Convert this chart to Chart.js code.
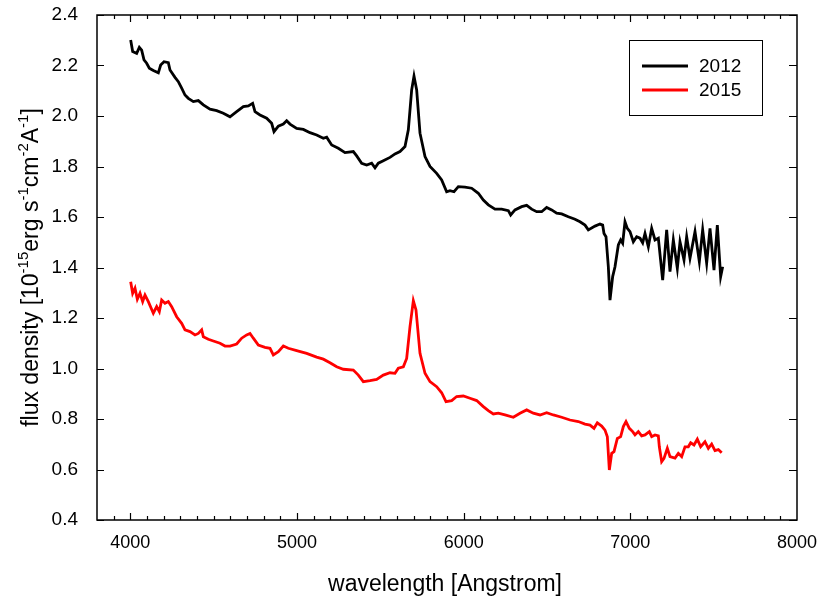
<!DOCTYPE html>
<html>
<head>
<meta charset="utf-8">
<script src="https://cdn.jsdelivr.net/npm/chart.js@4/dist/chart.umd.min.js"></script>
<style>
  html, body { margin: 0; padding: 0; background: #fff; }
  #box { width: 830px; height: 613px; position: relative; }
</style>
</head>
<body>
<div id="box"><canvas id="grafico"></canvas></div>
<script>
const seriesLabels = ["2012", "2015"];
const seriesColors = ["#000000", "#ff0000"];

const wave2012 = [4002,4014,4038,4054,4068,4082,4098,4114,4138,4168,4182,4202,4228,4238,4268,4288,4308,4328,4348,4378,
  4408,4438,4478,4518,4558,4598,4638,4678,4708,4734,4748,4778,4818,4848,4862,4888,4918,4938,4958,4998,
  5038,5078,5118,5158,5178,5208,5248,5288,5338,5358,5388,5418,5448,5468,5488,5518,5558,5588,5618,5648,
  5668,5688,5702,5718,5738,5768,5798,5838,5868,5898,5918,5942,5968,6008,6048,6088,6118,6148,6188,6228,
  6268,6282,6308,6348,6378,6408,6438,6468,6498,6528,6558,6588,6628,6668,6698,6728,6748,6788,6818,6834,
  6842,6854,6868,6878,6894,6908,6928,6942,6954,6968,6982,6998,7018,7038,7058,7074,7088,7108,7128,7148,
  7168,7194,7218,7238,7258,7282,7298,7322,7338,7358,7388,7414,7434,7458,7478,7502,7522,7542,7554];
const flux2012 = [2.301,2.255,2.248,2.272,2.261,2.222,2.209,2.189,2.180,2.171,2.202,2.215,2.211,2.182,2.153,2.136,2.110,2.083,2.070,2.057,
  2.061,2.044,2.027,2.021,2.011,1.997,2.017,2.037,2.040,2.050,2.017,2.004,1.991,1.971,1.938,1.960,1.968,1.981,1.968,1.951,
  1.947,1.934,1.925,1.912,1.916,1.885,1.872,1.855,1.859,1.842,1.813,1.806,1.813,1.795,1.813,1.823,1.836,1.850,1.859,1.879,
  1.945,2.103,2.158,2.103,1.932,1.839,1.800,1.773,1.747,1.700,1.704,1.700,1.720,1.718,1.714,1.694,1.667,1.648,1.631,1.631,
  1.625,1.608,1.628,1.641,1.646,1.631,1.621,1.621,1.638,1.628,1.615,1.612,1.601,1.591,1.581,1.568,1.549,1.564,1.572,1.568,
  1.535,1.522,1.403,1.271,1.364,1.403,1.489,1.509,1.496,1.581,1.555,1.542,1.502,1.522,1.516,1.498,1.535,1.482,1.555,1.509,
  1.516,1.350,1.549,1.384,1.509,1.397,1.502,1.430,1.522,1.437,1.542,1.423,1.549,1.417,1.555,1.390,1.568,1.364,1.403];

const wave2015 = [4002,4014,4028,4042,4058,4074,4088,4108,4138,4158,4174,4188,4208,4228,4248,4278,4308,4328,4358,4388,
  4408,4428,4438,4468,4498,4538,4568,4598,4638,4668,4698,4718,4738,4768,4808,4838,4858,4888,4918,4948,
  4998,5058,5118,5158,5198,5238,5278,5338,5368,5398,5438,5478,5518,5558,5588,5608,5638,5658,5678,5698,
  5714,5738,5768,5798,5838,5868,5894,5928,5958,5998,6038,6078,6118,6148,6178,6208,6248,6298,6338,6378,
  6418,6458,6498,6538,6588,6638,6688,6728,6758,6782,6802,6828,6848,6862,6874,6888,6902,6922,6942,6958,
  6974,6994,7014,7028,7048,7068,7088,7114,7128,7148,7168,7174,7188,7202,7222,7238,7268,7288,7308,7328,
  7348,7362,7382,7402,7422,7448,7468,7488,7508,7528,7548];
const flux2015 = [1.344,1.298,1.318,1.274,1.298,1.265,1.291,1.265,1.219,1.245,1.225,1.271,1.258,1.265,1.245,1.205,1.179,1.153,1.146,1.133,
  1.139,1.153,1.126,1.116,1.109,1.100,1.089,1.089,1.097,1.120,1.133,1.139,1.120,1.093,1.084,1.080,1.054,1.067,1.089,1.080,
  1.071,1.060,1.045,1.037,1.023,1.007,0.997,0.994,0.974,0.948,0.952,0.957,0.974,0.983,0.981,1.001,1.007,1.040,1.166,1.269,
  1.232,1.060,0.981,0.948,0.928,0.904,0.869,0.873,0.889,0.891,0.882,0.873,0.849,0.833,0.820,0.823,0.816,0.807,0.823,0.836,
  0.823,0.816,0.825,0.816,0.807,0.796,0.790,0.780,0.776,0.763,0.785,0.772,0.756,0.730,0.598,0.664,0.671,0.723,0.730,0.770,
  0.790,0.763,0.750,0.737,0.750,0.733,0.737,0.750,0.730,0.737,0.733,0.690,0.631,0.644,0.684,0.651,0.645,0.664,0.651,0.690,
  0.690,0.706,0.697,0.720,0.690,0.710,0.684,0.701,0.675,0.679,0.666];

const xTickValues = [4000, 5000, 6000, 7000, 8000];
const yTickValues = [0.4, 0.6, 0.8, 1.0, 1.2, 1.4, 1.6, 1.8, 2.0, 2.2, 2.4];
const xMinorStep = 100;

const xTitle = "wavelength [Angstrom]";
// pedaços do título do eixo y: [texto, sobrescrito?]
const yTitleParts = [["flux density [10", false], ["-15", true], ["erg s", false], ["-1", true],
  ["cm", false], ["-2", true], ["A", false], ["-1", true], ["]", false]];

const FONTE = "'Liberation Sans', Arial, Helvetica, sans-serif";

function pontos(xs, ys) {
  return xs.map((x, i) => ({ x: x, y: ys[i] }));
}

// moldura com ticks para dentro nos quatro lados
const molduraPlugin = {
  id: "moldura",
  afterDraw(chart) {
    const ctx = chart.ctx;
    const a = chart.chartArea;
    const sx = chart.scales.x;
    const sy = chart.scales.y;
    ctx.save();
    ctx.strokeStyle = "#000";
    ctx.lineWidth = 1.5;
    ctx.strokeRect(a.left, a.top, a.right - a.left, a.bottom - a.top);
    ctx.lineWidth = 1.2;
    ctx.beginPath();
    for (let v = sx.min + xMinorStep; v < sx.max; v += xMinorStep) {
      const px = Math.round(sx.getPixelForValue(v)) + 0.5;
      const len = v % 1000 === 0 ? 7 : 4;
      ctx.moveTo(px, a.bottom);
      ctx.lineTo(px, a.bottom - len);
      ctx.moveTo(px, a.top);
      ctx.lineTo(px, a.top + len);
    }
    yTickValues.forEach(v => {
      const py = Math.round(sy.getPixelForValue(v)) + 0.5;
      ctx.moveTo(a.left, py);
      ctx.lineTo(a.left + 7, py);
      ctx.moveTo(a.right, py);
      ctx.lineTo(a.right - 8, py);
    });
    ctx.stroke();
    ctx.restore();
  }
};

const titulosPlugin = {
  id: "titulos",
  afterDraw(chart) {
    const ctx = chart.ctx;
    const a = chart.chartArea;
    ctx.save();
    ctx.fillStyle = "#000";
    ctx.textBaseline = "alphabetic";
    ctx.textAlign = "center";
    ctx.font = "23px " + FONTE;
    ctx.fillText(xTitle, (a.left + a.right) / 2 - 2, 591);

    const grande = "23px " + FONTE;
    const pequeno = "15px " + FONTE;
    let total = 0;
    yTitleParts.forEach(p => {
      ctx.font = p[1] ? pequeno : grande;
      total += ctx.measureText(p[0]).width;
    });
    ctx.translate(38, (a.top + a.bottom) / 2);
    ctx.rotate(-Math.PI / 2);
    ctx.textAlign = "left";
    let pos = -total / 2;
    yTitleParts.forEach(p => {
      ctx.font = p[1] ? pequeno : grande;
      ctx.fillText(p[0], pos, p[1] ? -10 : 0);
      pos += ctx.measureText(p[0]).width;
    });
    ctx.restore();
  }
};

const legendaPlugin = {
  id: "legenda",
  afterDraw(chart) {
    const ctx = chart.ctx;
    ctx.save();
    ctx.strokeStyle = "#000";
    ctx.lineWidth = 1;
    ctx.strokeRect(629.5, 40.5, 133, 75);
    ctx.font = "19px " + FONTE;
    ctx.textBaseline = "middle";
    ctx.textAlign = "left";
    chart.data.datasets.forEach((ds, i) => {
      const y = 66 + i * 24;
      ctx.strokeStyle = ds.borderColor;
      ctx.lineWidth = 3;
      ctx.beginPath();
      ctx.moveTo(642, y);
      ctx.lineTo(688, y);
      ctx.stroke();
      ctx.fillStyle = "#000";
      ctx.fillText(ds.label, 699, y + 1);
    });
    ctx.restore();
  }
};

function desenharGrafico() {
  const ctx = document.getElementById("grafico").getContext("2d");
  new Chart(ctx, {
    type: "line",
    data: {
      datasets: [
        {
          label: seriesLabels[0],
          data: pontos(wave2012, flux2012),
          borderColor: seriesColors[0],
          borderWidth: 2.8,
          pointRadius: 0,
          tension: 0,
        },
        {
          label: seriesLabels[1],
          data: pontos(wave2015, flux2015),
          borderColor: seriesColors[1],
          borderWidth: 2.8,
          pointRadius: 0,
          tension: 0,
        },
      ],
    },
    options: {
      responsive: true,
      maintainAspectRatio: false,
      animation: false,
      devicePixelRatio: 1,
      layout: { padding: { top: 15, right: 33, left: 0, bottom: 0 } },
      plugins: {
        legend: { display: false },
        tooltip: { enabled: false },
      },
      scales: {
        x: {
          type: "linear",
          min: 3800,
          max: 8000,
          grid: { display: false },
          border: { display: false },
          ticks: {
            color: "#000",
            font: { family: FONTE, size: 18 },
            padding: 4,
            maxRotation: 0,
            callback: v => String(v),
          },
          afterBuildTicks: scale => {
            scale.ticks = xTickValues.map(v => ({ value: v }));
          },
          afterFit: scale => {
            scale.height = 93;
            scale.paddingLeft = 0;
            scale.paddingRight = 0;
          },
        },
        y: {
          type: "linear",
          min: 0.4,
          max: 2.4,
          grid: { display: false },
          border: { display: false },
          ticks: {
            color: "#000",
            font: { family: FONTE, size: 19 },
            padding: 11,
            callback: v => Number(v).toFixed(1),
          },
          afterBuildTicks: scale => {
            scale.ticks = yTickValues.map(v => ({ value: v }));
          },
          afterFit: scale => {
            scale.width = 97;
            scale.paddingTop = 0;
            scale.paddingBottom = 0;
          },
        },
      },
    },
    plugins: [molduraPlugin, titulosPlugin, legendaPlugin],
  });
}

document.addEventListener("DOMContentLoaded", desenharGrafico);
</script>
</body>
</html>
